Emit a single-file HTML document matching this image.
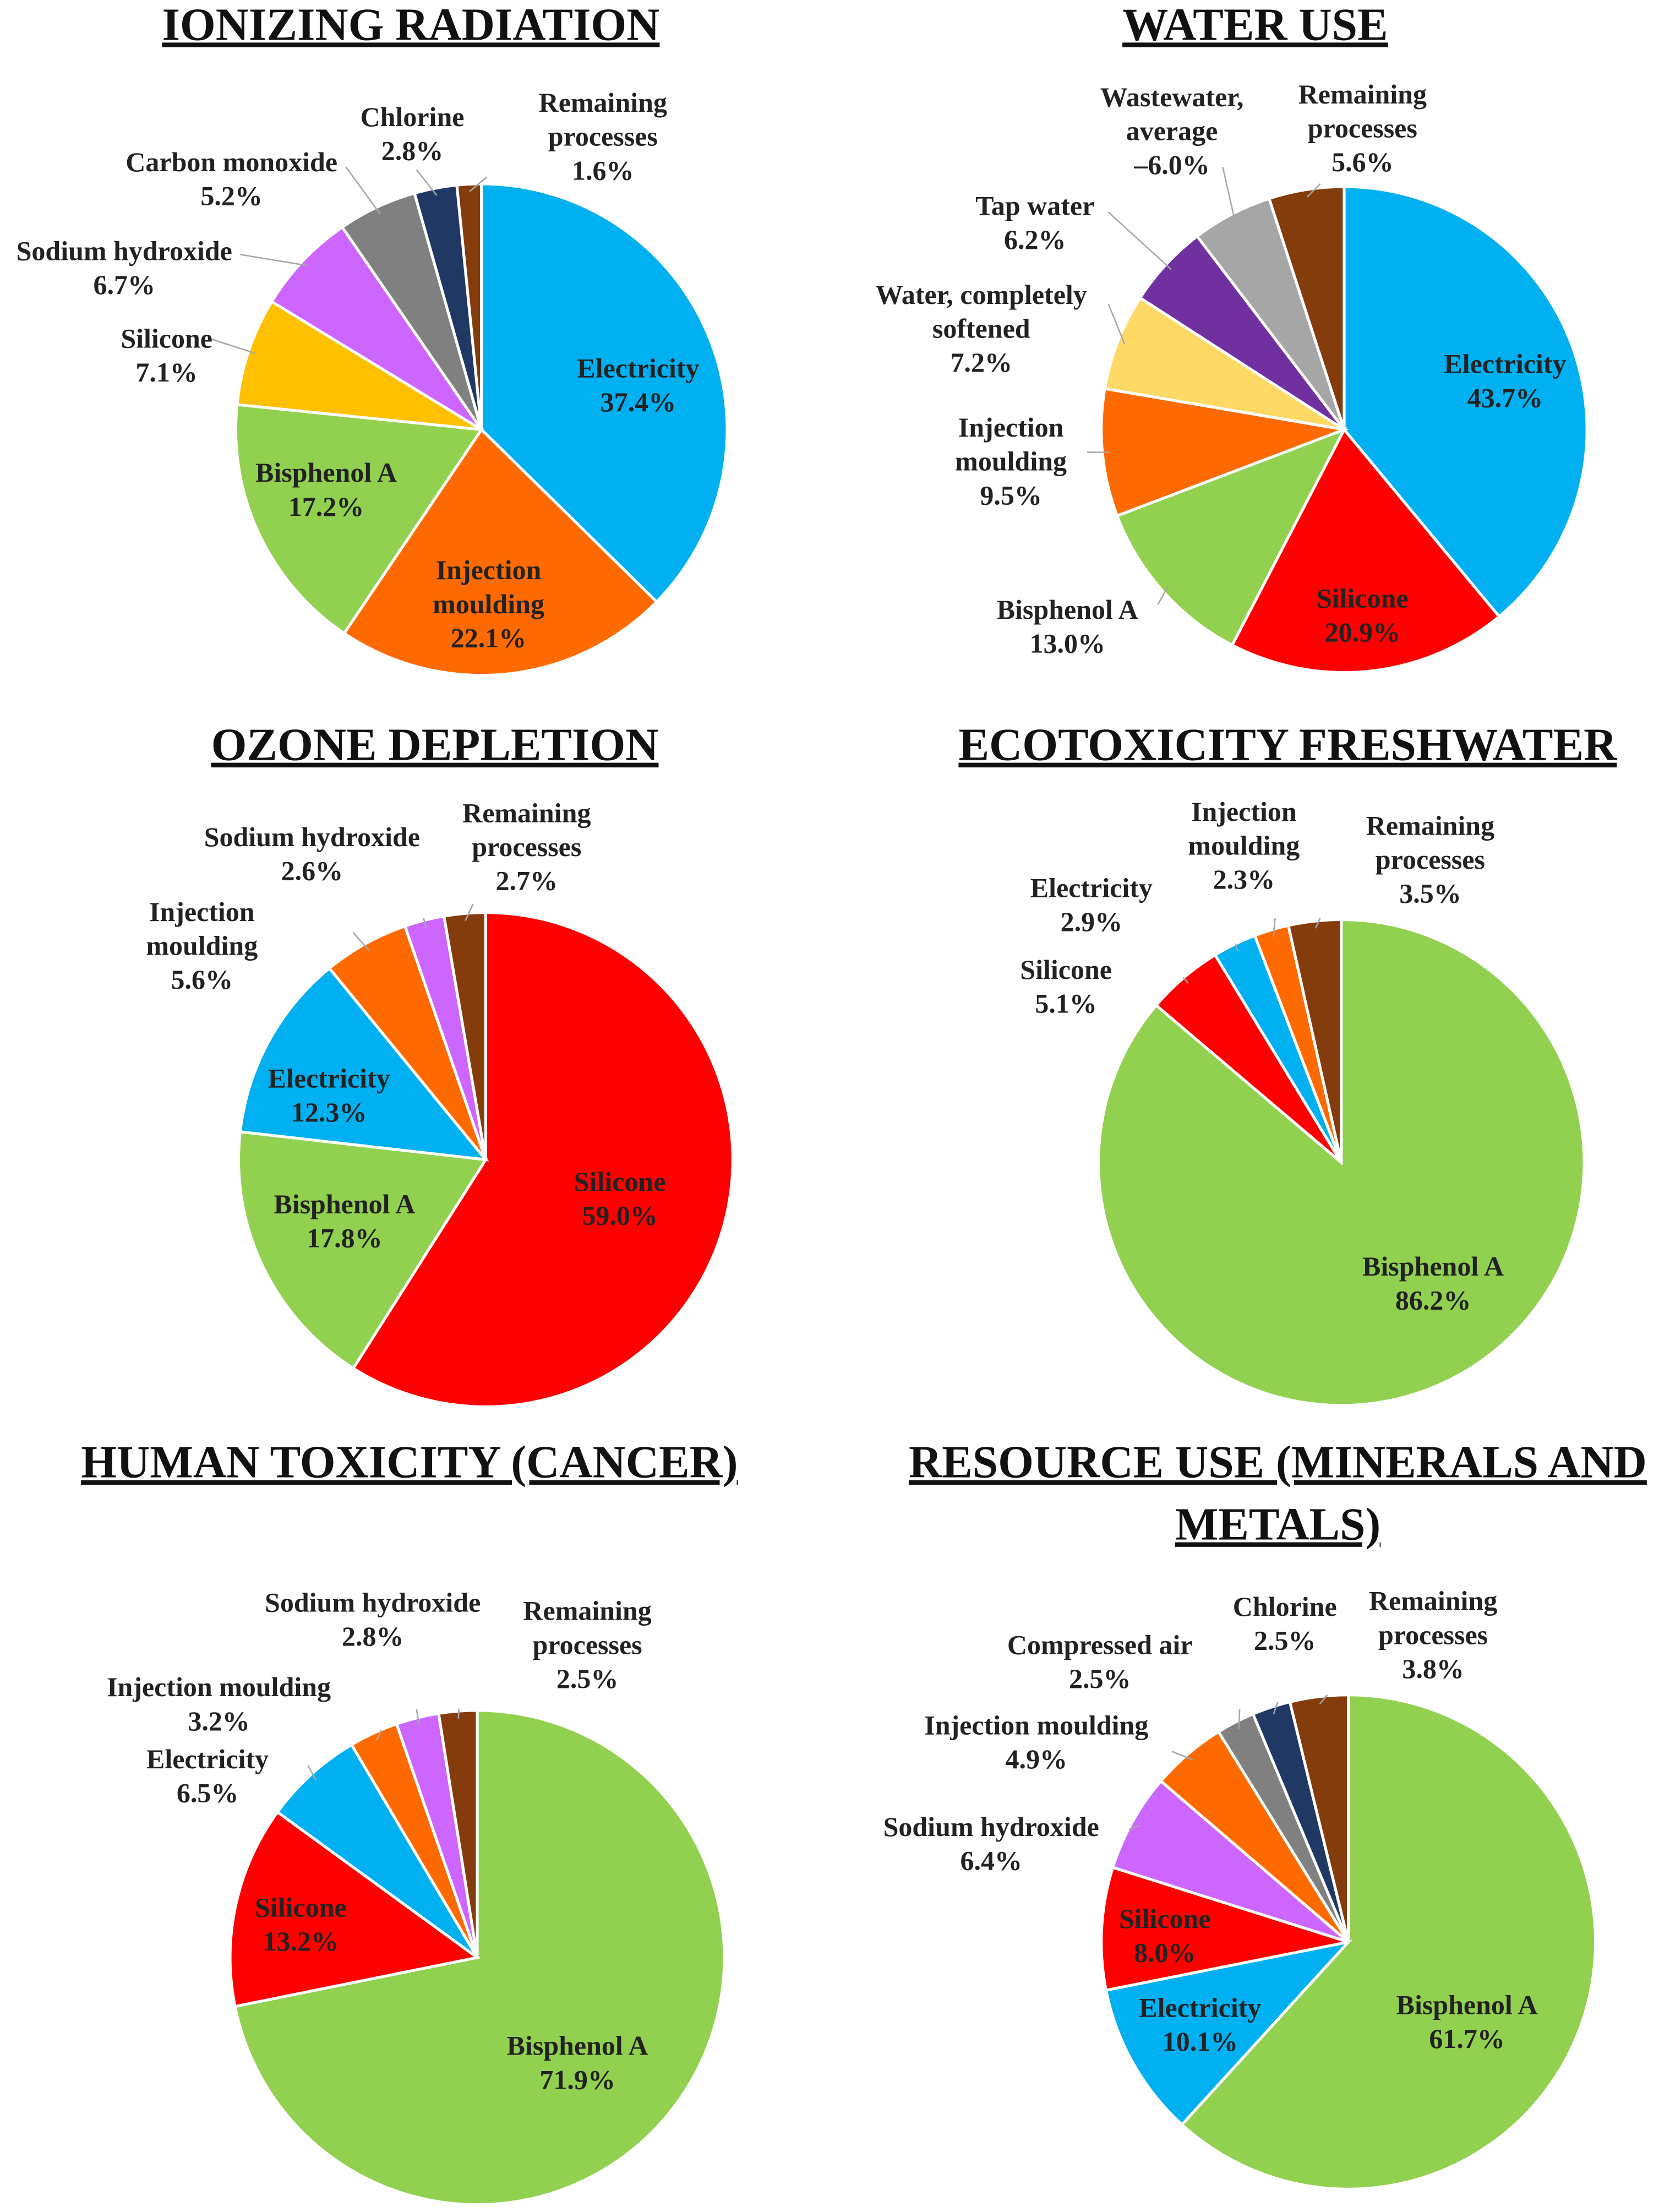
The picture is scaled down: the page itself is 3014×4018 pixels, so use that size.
<!DOCTYPE html>
<html><head><meta charset="utf-8"><style>
html,body{margin:0;padding:0;background:#fff;}
svg{display:block;}
text{font-family:"Liberation Serif",serif;font-weight:bold;fill:#222;}
.t{font-size:32.5px;text-decoration:underline;fill:#111;}
.l{font-size:19.5px;}
</style></head><body>
<svg id="c" width="3014" height="4018" viewBox="0 0 1175 1566" xmlns="http://www.w3.org/2000/svg"></svg>
<script>
// ---- data ----
const ionCats=["Electricity","Injection moulding","Bisphenol A","Silicone","Sodium hydroxide","Carbon monoxide","Chlorine","Remaining processes"];
const ionVals=[37.4,22.1,17.2,7.1,6.7,5.2,2.8,1.6];
const waterCats=["Electricity","Silicone","Bisphenol A","Injection moulding","Water, completely softened","Tap water","Wastewater, average","Remaining processes"];
const waterVals=[43.7,20.9,13.0,9.5,7.2,6.2,-6.0,5.6];
const ozoneCats=["Silicone","Bisphenol A","Electricity","Injection moulding","Sodium hydroxide","Remaining processes"];
const ozoneVals=[59.0,17.8,12.3,5.6,2.6,2.7];
const ecoCats=["Bisphenol A","Silicone","Electricity","Injection moulding","Remaining processes"];
const ecoVals=[86.2,5.1,2.9,2.3,3.5];
const humCats=["Bisphenol A","Silicone","Electricity","Injection moulding","Sodium hydroxide","Remaining processes"];
const humVals=[71.9,13.2,6.5,3.2,2.8,2.5];
const resCats=["Bisphenol A","Electricity","Silicone","Sodium hydroxide","Injection moulding","Compressed air","Chlorine","Remaining processes"];
const resVals=[61.7,10.1,8.0,6.4,4.9,2.5,2.5,3.8];

const COL={"Electricity":"#00b0f0","Injection moulding":"#ff6a00","Bisphenol A":"#92d050","Silicone":"#ff0000",
"Sodium hydroxide":"#cc66ff","Carbon monoxide":"#808080","Chlorine":"#203864","Remaining processes":"#843c0c",
"Water, completely softened":"#ffd966","Tap water":"#7030a0","Wastewater, average":"#a6a6a6","Compressed air":"#808080"};

const svg=document.getElementById('c');
const NS="http://www.w3.org/2000/svg";
function mk(tag,attrs,parent){const e=document.createElementNS(NS,tag);for(const k in attrs)e.setAttribute(k,attrs[k]);(parent||svg).appendChild(e);return e;}
function fmt(v){return (v<0?"\u2013"+Math.abs(v).toFixed(1):v.toFixed(1))+"%";}

const charts=[
 {id:"ionizing",title:["IONIZING RADIATION"],tx:291,ty:28,cx:341,cy:304,r:174,cats:ionCats,vals:ionVals,override:{"Silicone":"#ffc000"},
  labels:[[["Electricity"],452,267],[["Injection","moulding"],346,410],[["Bisphenol A"],231,341],[["Silicone"],118,246,150,240],[["Sodium hydroxide"],88,184,170,180],[["Carbon monoxide"],164,121,245,118],[["Chlorine"],292,89,295,120],[["Remaining","processes"],427,79,345,125]]},
 {id:"water-use",title:["WATER USE"],tx:889,ty:28,cx:952,cy:304,r:172,cats:waterCats,vals:waterVals,
  labels:[[["Electricity"],1066,264],[["Silicone"],965,430],[["Bisphenol A"],756,438,820,428],[["Injection","moulding"],716,309,770,320],[["Water, completely","softened"],695,215,785,215],[["Tap water"],733,152,785,150],[["Wastewater,","average"],830,75,866,118],[["Remaining","processes"],965,73,935,130]]},
 {id:"ozone-depletion",title:["OZONE DEPLETION"],tx:308,ty:538,cx:344,cy:821,r:175,cats:ozoneCats,vals:ozoneVals,
  labels:[[["Silicone"],439,843],[["Bisphenol A"],244,859],[["Electricity"],233,770],[["Injection","moulding"],143,652,250,660],[["Sodium hydroxide"],221,599,300,650],[["Remaining","processes"],373,582,335,640]]},
 {id:"ecotoxicity-freshwater",title:["ECOTOXICITY FRESHWATER"],tx:912,ty:538,cx:950,cy:823,r:172,cats:ecoCats,vals:ecoVals,
  labels:[[["Bisphenol A"],1015,903],[["Silicone"],755,693,838,692],[["Electricity"],773,635,875,668],[["Injection","moulding"],881,581,903,650],[["Remaining","processes"],1013,591,935,650]]},
 {id:"human-toxicity-cancer",title:["HUMAN TOXICITY (CANCER)"],tx:290,ty:1046,cx:338,cy:1386,r:175,cats:humCats,vals:humVals,
  labels:[[["Bisphenol A"],409,1455],[["Silicone"],213,1357],[["Electricity"],147,1252,218,1250],[["Injection moulding"],155,1201,270,1225],[["Sodium hydroxide"],264,1141,295,1210],[["Remaining","processes"],416,1147,325,1210]]},
 {id:"resource-use",title:["RESOURCE USE (MINERALS AND","METALS)"],tx:905,ty:1046,cx:955,cy:1375,r:175,cats:resCats,vals:resVals,
  labels:[[["Bisphenol A"],1039,1426],[["Electricity"],850,1428],[["Silicone"],825,1365],[["Sodium hydroxide"],702,1300,800,1295],[["Injection moulding"],734,1228,830,1240],[["Compressed air"],779,1171,878,1210],[["Chlorine"],910,1144,905,1205],[["Remaining","processes"],1015,1140,940,1200]]}
];

charts.forEach(ch=>{
  const g=mk('g',{});
  
  
  ch.title.forEach((t,i)=>{
    const te=mk('text',{x:ch.tx,y:ch.ty+i*44,'text-anchor':'middle',class:'t'},g);
    
    
    te.textContent=t;
  });
  const total=ch.vals.reduce((a,v)=>a+Math.abs(v),0);
  let a0=0;const mids={};
  ch.vals.forEach((v,i)=>{
    const a1=a0+Math.abs(v)/total*2*Math.PI;
    const x0=ch.cx+ch.r*Math.sin(a0),y0=ch.cy-ch.r*Math.cos(a0);
    const x1=ch.cx+ch.r*Math.sin(a1),y1=ch.cy-ch.r*Math.cos(a1);
    const large=(a1-a0)>Math.PI?1:0;
    const cat=ch.cats[i];
    const col=(ch.override&&ch.override[cat])||COL[cat];
    const p=mk('path',{d:`M${ch.cx},${ch.cy}L${x0},${y0}A${ch.r},${ch.r} 0 ${large} 1 ${x1},${y1}Z`,fill:col,stroke:'#fff','stroke-width':2},g);
    
    
    mids[cat]=[(a0+a1)/2,v];
    a0=a1;
  });
  ch.labels.forEach(lb=>{
    const lines=lb[0],x=lb[1],y=lb[2];
    const cat=ch.cats.find(c=>c.startsWith(lines[0].replace(/,$/,'').split(',')[0])||c===lines.join(' '))||lines.join(' ');
    const m=mids[cat]||mids[lines.join(' ')];
    if(lb.length>3&&m){
      const px=ch.cx+ch.r*0.97*Math.sin(m[0]),py=ch.cy-ch.r*0.97*Math.cos(m[0]);
      const ln=mk('polyline',{points:`${lb[3]},${lb[4]} ${px},${py}`,fill:'none',stroke:'#a6a6a6','stroke-width':1},g);
      
      
    }
    const te=mk('text',{x:x,y:y,'text-anchor':'middle',class:'l'},g);
    
    
    const all=lines.concat([m?fmt(m[1]):'']);
    all.forEach((s,i)=>{const ts=mk('tspan',{x:x,dy:i?24:0},te);ts.textContent=s;});
  });
});
</script>
</body></html>
